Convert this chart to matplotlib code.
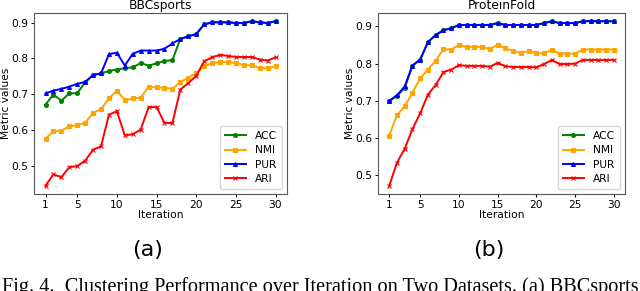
import matplotlib
matplotlib.use("Agg")
import matplotlib.pyplot as plt

iters = list(range(1, 31))
xticks = [1, 5, 10, 15, 20, 25, 30]

# BBCsports
bbc_acc = [0.671, 0.699, 0.682, 0.702, 0.703, 0.733, 0.754, 0.758, 0.765, 0.769,
           0.773, 0.775, 0.787, 0.780, 0.786, 0.793, 0.795, 0.855, 0.862, 0.868,
           0.895, 0.901, 0.901, 0.901, 0.899, 0.899, 0.904, 0.901, 0.899, 0.904]
bbc_nmi = [0.576, 0.596, 0.598, 0.610, 0.613, 0.620, 0.648, 0.658, 0.688, 0.710,
           0.683, 0.688, 0.690, 0.721, 0.719, 0.718, 0.715, 0.734, 0.746, 0.759,
           0.778, 0.787, 0.790, 0.789, 0.788, 0.781, 0.781, 0.774, 0.772, 0.779]
bbc_pur = [0.702, 0.710, 0.715, 0.721, 0.729, 0.734, 0.754, 0.758, 0.812, 0.816,
           0.780, 0.813, 0.822, 0.822, 0.822, 0.827, 0.842, 0.854, 0.862, 0.868,
           0.895, 0.901, 0.901, 0.901, 0.899, 0.899, 0.904, 0.901, 0.899, 0.904]
bbc_ari = [0.444, 0.476, 0.468, 0.496, 0.499, 0.514, 0.545, 0.554, 0.643, 0.652,
           0.585, 0.588, 0.601, 0.664, 0.664, 0.620, 0.619, 0.713, 0.731, 0.751,
           0.792, 0.803, 0.810, 0.807, 0.804, 0.804, 0.804, 0.797, 0.794, 0.803]

# ProteinFold
pf_acc = [0.700, 0.713, 0.735, 0.795, 0.811, 0.858, 0.877, 0.890, 0.895, 0.904,
          0.904, 0.904, 0.904, 0.904, 0.909, 0.904, 0.904, 0.904, 0.904, 0.904,
          0.909, 0.914, 0.909, 0.909, 0.909, 0.914, 0.914, 0.914, 0.914, 0.914]
pf_nmi = [0.606, 0.662, 0.685, 0.722, 0.761, 0.784, 0.808, 0.839, 0.838, 0.850,
          0.845, 0.845, 0.845, 0.839, 0.851, 0.841, 0.834, 0.829, 0.834, 0.828,
          0.828, 0.837, 0.827, 0.827, 0.827, 0.838, 0.838, 0.838, 0.838, 0.838]
pf_pur = [0.700, 0.715, 0.739, 0.795, 0.811, 0.858, 0.877, 0.890, 0.895, 0.904,
          0.904, 0.904, 0.904, 0.904, 0.909, 0.904, 0.904, 0.904, 0.904, 0.904,
          0.909, 0.914, 0.909, 0.909, 0.909, 0.914, 0.914, 0.914, 0.914, 0.914]
pf_ari = [0.472, 0.534, 0.572, 0.624, 0.667, 0.717, 0.743, 0.777, 0.784, 0.796,
          0.794, 0.794, 0.794, 0.792, 0.802, 0.793, 0.791, 0.791, 0.791, 0.790,
          0.799, 0.810, 0.799, 0.799, 0.800, 0.810, 0.810, 0.810, 0.810, 0.810]

fig = plt.figure(figsize=(6.4, 2.91), dpi=100)
ax1 = fig.add_axes([34 / 640, 1 - 194 / 291, 253 / 640, 181 / 291])
ax2 = fig.add_axes([378 / 640, 1 - 194 / 291, 247 / 640, 181 / 291])


def draw(ax, title, acc, nmi, pur, ari):
    kw = dict(lw=1.4, ms=2.8, mew=0.8)
    ax.plot(iters, acc, color='g', marker='o', label='ACC', **kw)
    ax.plot(iters, nmi, color='orange', marker='s', label='NMI', **kw)
    ax.plot(iters, pur, color='b', marker='^', label='PUR', **kw)
    ax.plot(iters, ari, color='r', marker='x', label='ARI', **kw)
    ax.set_xticks(xticks)
    ax.set_yticks([0.5, 0.6, 0.7, 0.8, 0.9])
    ax.tick_params(labelsize=7.7, length=2.5, pad=1.5)
    ax.set_title(title, fontsize=8.8, pad=3)
    ax.set_xlabel('Iteration', fontsize=7.7, labelpad=0.5)
    ax.set_ylabel('Metric values', fontsize=7.7, labelpad=0.5)
    ax.legend(loc='lower right', fontsize=7.7, handlelength=2.0,
              labelspacing=0.4, borderpad=0.45)
    for s in ax.spines.values():
        s.set_color('0.35')


draw(ax1, 'BBCsports', bbc_acc, bbc_nmi, bbc_pur, bbc_ari)
draw(ax2, 'ProteinFold', pf_acc, pf_nmi, pf_pur, pf_ari)

fig.text(148 / 640, 1 - 250 / 291, '(a)', fontsize=16, ha='center', va='center')
fig.text(489 / 640, 1 - 250 / 291, '(b)', fontsize=16, ha='center', va='center')
fig.text(0.003, -0.004, 'Fig. 4.  Clustering Performance over Iteration on Two Datasets. (a) BBCsports',
         fontsize=14.6, family='Liberation Serif', ha='left', va='baseline')

fig.savefig('out.png', dpi=100)
